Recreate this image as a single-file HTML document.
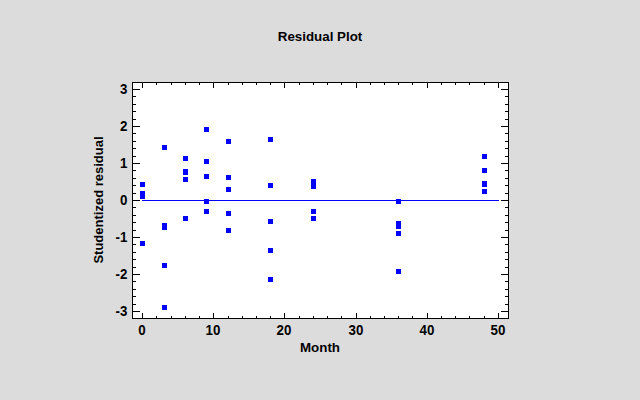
<!DOCTYPE html>
<html><head><meta charset="utf-8"><title>Residual Plot</title>
<style>
html,body{margin:0;padding:0;background:#dcdcdc;}
body{width:640px;height:400px;overflow:hidden;}
svg{display:block;}
text{font-family:'Liberation Sans',Arial,sans-serif;font-weight:bold;font-size:13.33px;fill:#000;}
</style></head>
<body>
<svg width="640" height="400" viewBox="0 0 640 400">
<g shape-rendering="crispEdges">
<rect x="132" y="82" width="377" height="237" fill="#fff"/>
<rect x="132" y="82" width="377" height="1" fill="#000"/>
<rect x="132" y="318" width="377" height="1" fill="#000"/>
<rect x="132" y="82" width="1" height="237" fill="#000"/>
<rect x="508" y="82" width="1" height="237" fill="#000"/>
<rect x="142" y="83" width="1" height="5" fill="#000"/>
<rect x="142" y="313" width="1" height="5" fill="#000"/>
<rect x="156" y="83" width="1" height="2" fill="#000"/>
<rect x="156" y="316" width="1" height="2" fill="#000"/>
<rect x="171" y="83" width="1" height="2" fill="#000"/>
<rect x="171" y="316" width="1" height="2" fill="#000"/>
<rect x="185" y="83" width="1" height="2" fill="#000"/>
<rect x="185" y="316" width="1" height="2" fill="#000"/>
<rect x="199" y="83" width="1" height="2" fill="#000"/>
<rect x="199" y="316" width="1" height="2" fill="#000"/>
<rect x="213" y="83" width="1" height="5" fill="#000"/>
<rect x="213" y="313" width="1" height="5" fill="#000"/>
<rect x="228" y="83" width="1" height="2" fill="#000"/>
<rect x="228" y="316" width="1" height="2" fill="#000"/>
<rect x="242" y="83" width="1" height="2" fill="#000"/>
<rect x="242" y="316" width="1" height="2" fill="#000"/>
<rect x="256" y="83" width="1" height="2" fill="#000"/>
<rect x="256" y="316" width="1" height="2" fill="#000"/>
<rect x="270" y="83" width="1" height="2" fill="#000"/>
<rect x="270" y="316" width="1" height="2" fill="#000"/>
<rect x="284" y="83" width="1" height="5" fill="#000"/>
<rect x="284" y="313" width="1" height="5" fill="#000"/>
<rect x="299" y="83" width="1" height="2" fill="#000"/>
<rect x="299" y="316" width="1" height="2" fill="#000"/>
<rect x="313" y="83" width="1" height="2" fill="#000"/>
<rect x="313" y="316" width="1" height="2" fill="#000"/>
<rect x="327" y="83" width="1" height="2" fill="#000"/>
<rect x="327" y="316" width="1" height="2" fill="#000"/>
<rect x="341" y="83" width="1" height="2" fill="#000"/>
<rect x="341" y="316" width="1" height="2" fill="#000"/>
<rect x="356" y="83" width="1" height="5" fill="#000"/>
<rect x="356" y="313" width="1" height="5" fill="#000"/>
<rect x="370" y="83" width="1" height="2" fill="#000"/>
<rect x="370" y="316" width="1" height="2" fill="#000"/>
<rect x="384" y="83" width="1" height="2" fill="#000"/>
<rect x="384" y="316" width="1" height="2" fill="#000"/>
<rect x="398" y="83" width="1" height="2" fill="#000"/>
<rect x="398" y="316" width="1" height="2" fill="#000"/>
<rect x="412" y="83" width="1" height="2" fill="#000"/>
<rect x="412" y="316" width="1" height="2" fill="#000"/>
<rect x="427" y="83" width="1" height="5" fill="#000"/>
<rect x="427" y="313" width="1" height="5" fill="#000"/>
<rect x="441" y="83" width="1" height="2" fill="#000"/>
<rect x="441" y="316" width="1" height="2" fill="#000"/>
<rect x="455" y="83" width="1" height="2" fill="#000"/>
<rect x="455" y="316" width="1" height="2" fill="#000"/>
<rect x="469" y="83" width="1" height="2" fill="#000"/>
<rect x="469" y="316" width="1" height="2" fill="#000"/>
<rect x="484" y="83" width="1" height="2" fill="#000"/>
<rect x="484" y="316" width="1" height="2" fill="#000"/>
<rect x="498" y="83" width="1" height="5" fill="#000"/>
<rect x="498" y="313" width="1" height="5" fill="#000"/>
<rect x="133" y="311" width="7" height="1" fill="#000"/>
<rect x="501" y="311" width="7" height="1" fill="#000"/>
<rect x="133" y="304" width="3" height="1" fill="#000"/>
<rect x="505" y="304" width="3" height="1" fill="#000"/>
<rect x="133" y="296" width="3" height="1" fill="#000"/>
<rect x="505" y="296" width="3" height="1" fill="#000"/>
<rect x="133" y="289" width="3" height="1" fill="#000"/>
<rect x="505" y="289" width="3" height="1" fill="#000"/>
<rect x="133" y="281" width="3" height="1" fill="#000"/>
<rect x="505" y="281" width="3" height="1" fill="#000"/>
<rect x="133" y="274" width="7" height="1" fill="#000"/>
<rect x="501" y="274" width="7" height="1" fill="#000"/>
<rect x="133" y="267" width="3" height="1" fill="#000"/>
<rect x="505" y="267" width="3" height="1" fill="#000"/>
<rect x="133" y="259" width="3" height="1" fill="#000"/>
<rect x="505" y="259" width="3" height="1" fill="#000"/>
<rect x="133" y="252" width="3" height="1" fill="#000"/>
<rect x="505" y="252" width="3" height="1" fill="#000"/>
<rect x="133" y="244" width="3" height="1" fill="#000"/>
<rect x="505" y="244" width="3" height="1" fill="#000"/>
<rect x="133" y="237" width="7" height="1" fill="#000"/>
<rect x="501" y="237" width="7" height="1" fill="#000"/>
<rect x="133" y="230" width="3" height="1" fill="#000"/>
<rect x="505" y="230" width="3" height="1" fill="#000"/>
<rect x="133" y="222" width="3" height="1" fill="#000"/>
<rect x="505" y="222" width="3" height="1" fill="#000"/>
<rect x="133" y="215" width="3" height="1" fill="#000"/>
<rect x="505" y="215" width="3" height="1" fill="#000"/>
<rect x="133" y="207" width="3" height="1" fill="#000"/>
<rect x="505" y="207" width="3" height="1" fill="#000"/>
<rect x="133" y="200" width="7" height="1" fill="#000"/>
<rect x="501" y="200" width="7" height="1" fill="#000"/>
<rect x="133" y="193" width="3" height="1" fill="#000"/>
<rect x="505" y="193" width="3" height="1" fill="#000"/>
<rect x="133" y="185" width="3" height="1" fill="#000"/>
<rect x="505" y="185" width="3" height="1" fill="#000"/>
<rect x="133" y="178" width="3" height="1" fill="#000"/>
<rect x="505" y="178" width="3" height="1" fill="#000"/>
<rect x="133" y="170" width="3" height="1" fill="#000"/>
<rect x="505" y="170" width="3" height="1" fill="#000"/>
<rect x="133" y="163" width="7" height="1" fill="#000"/>
<rect x="501" y="163" width="7" height="1" fill="#000"/>
<rect x="133" y="156" width="3" height="1" fill="#000"/>
<rect x="505" y="156" width="3" height="1" fill="#000"/>
<rect x="133" y="148" width="3" height="1" fill="#000"/>
<rect x="505" y="148" width="3" height="1" fill="#000"/>
<rect x="133" y="141" width="3" height="1" fill="#000"/>
<rect x="505" y="141" width="3" height="1" fill="#000"/>
<rect x="133" y="133" width="3" height="1" fill="#000"/>
<rect x="505" y="133" width="3" height="1" fill="#000"/>
<rect x="133" y="126" width="7" height="1" fill="#000"/>
<rect x="501" y="126" width="7" height="1" fill="#000"/>
<rect x="133" y="119" width="3" height="1" fill="#000"/>
<rect x="505" y="119" width="3" height="1" fill="#000"/>
<rect x="133" y="111" width="3" height="1" fill="#000"/>
<rect x="505" y="111" width="3" height="1" fill="#000"/>
<rect x="133" y="104" width="3" height="1" fill="#000"/>
<rect x="505" y="104" width="3" height="1" fill="#000"/>
<rect x="133" y="96" width="3" height="1" fill="#000"/>
<rect x="505" y="96" width="3" height="1" fill="#000"/>
<rect x="133" y="89" width="7" height="1" fill="#000"/>
<rect x="501" y="89" width="7" height="1" fill="#000"/>
<rect x="142" y="200" width="357" height="1" fill="#00f"/>
<rect x="140" y="182" width="5" height="5" fill="#00f"/>
<rect x="140" y="191" width="5" height="5" fill="#00f"/>
<rect x="140" y="194" width="5" height="5" fill="#00f"/>
<rect x="140" y="241" width="5" height="5" fill="#00f"/>
<rect x="162" y="145" width="5" height="5" fill="#00f"/>
<rect x="162" y="223" width="5" height="5" fill="#00f"/>
<rect x="162" y="225" width="5" height="5" fill="#00f"/>
<rect x="162" y="263" width="5" height="5" fill="#00f"/>
<rect x="162" y="305" width="5" height="5" fill="#00f"/>
<rect x="183" y="156" width="5" height="5" fill="#00f"/>
<rect x="183" y="169" width="5" height="5" fill="#00f"/>
<rect x="183" y="170" width="5" height="5" fill="#00f"/>
<rect x="183" y="177" width="5" height="5" fill="#00f"/>
<rect x="183" y="216" width="5" height="5" fill="#00f"/>
<rect x="204" y="127" width="5" height="5" fill="#00f"/>
<rect x="204" y="159" width="5" height="5" fill="#00f"/>
<rect x="204" y="174" width="5" height="5" fill="#00f"/>
<rect x="204" y="199" width="5" height="5" fill="#00f"/>
<rect x="204" y="209" width="5" height="5" fill="#00f"/>
<rect x="226" y="139" width="5" height="5" fill="#00f"/>
<rect x="226" y="175" width="5" height="5" fill="#00f"/>
<rect x="226" y="187" width="5" height="5" fill="#00f"/>
<rect x="226" y="211" width="5" height="5" fill="#00f"/>
<rect x="226" y="228" width="5" height="5" fill="#00f"/>
<rect x="268" y="137" width="5" height="5" fill="#00f"/>
<rect x="268" y="183" width="5" height="5" fill="#00f"/>
<rect x="268" y="219" width="5" height="5" fill="#00f"/>
<rect x="268" y="248" width="5" height="5" fill="#00f"/>
<rect x="268" y="277" width="5" height="5" fill="#00f"/>
<rect x="311" y="179" width="5" height="5" fill="#00f"/>
<rect x="311" y="184" width="5" height="5" fill="#00f"/>
<rect x="311" y="209" width="5" height="5" fill="#00f"/>
<rect x="311" y="216" width="5" height="5" fill="#00f"/>
<rect x="396" y="199" width="5" height="5" fill="#00f"/>
<rect x="396" y="221" width="5" height="5" fill="#00f"/>
<rect x="396" y="224" width="5" height="5" fill="#00f"/>
<rect x="396" y="231" width="5" height="5" fill="#00f"/>
<rect x="396" y="269" width="5" height="5" fill="#00f"/>
<rect x="482" y="154" width="5" height="5" fill="#00f"/>
<rect x="482" y="168" width="5" height="5" fill="#00f"/>
<rect x="482" y="181" width="5" height="5" fill="#00f"/>
<rect x="482" y="182" width="5" height="5" fill="#00f"/>
<rect x="482" y="189" width="5" height="5" fill="#00f"/>
</g>
<g>
<text transform="translate(320,41)" text-anchor="middle">Residual Plot</text>
<text transform="translate(127.4,94) scale(1,1.03)" text-anchor="end">3</text>
<text transform="translate(127.4,131) scale(1,1.03)" text-anchor="end">2</text>
<text transform="translate(127.4,168) scale(1,1.03)" text-anchor="end">1</text>
<text transform="translate(127.4,205) scale(1,1.03)" text-anchor="end">0</text>
<text transform="translate(127.4,242) scale(1,1.03)" text-anchor="end">-1</text>
<text transform="translate(127.4,279) scale(1,1.03)" text-anchor="end">-2</text>
<text transform="translate(127.4,316) scale(1,1.03)" text-anchor="end">-3</text>
<text transform="translate(142,335) scale(1,1.03)" text-anchor="middle">0</text>
<text transform="translate(213,335) scale(1,1.03)" text-anchor="middle">10</text>
<text transform="translate(284,335) scale(1,1.03)" text-anchor="middle">20</text>
<text transform="translate(356,335) scale(1,1.03)" text-anchor="middle">30</text>
<text transform="translate(427,335) scale(1,1.03)" text-anchor="middle">40</text>
<text transform="translate(498,335) scale(1,1.03)" text-anchor="middle">50</text>
<text transform="translate(320,352)" text-anchor="middle">Month</text>
<text transform="translate(103,200) rotate(-90) scale(0.977,1)" text-anchor="middle">Studentized residual</text>
</g>
</svg>
</body></html>
